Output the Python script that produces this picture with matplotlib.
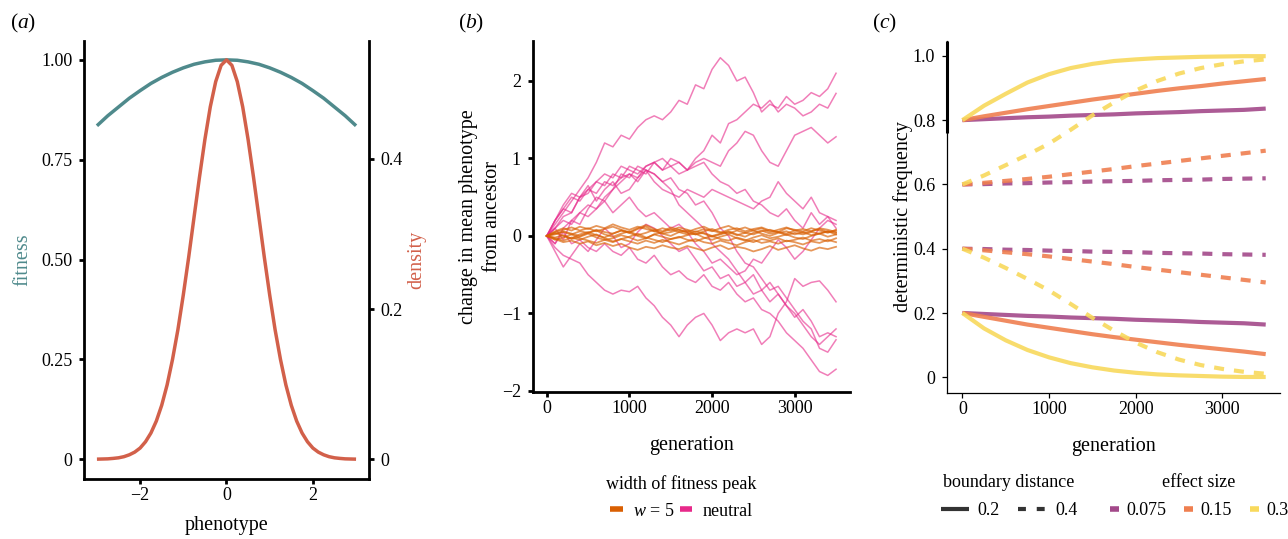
import numpy as np
import matplotlib
matplotlib.use('Agg')
import matplotlib.pyplot as plt
from matplotlib.lines import Line2D

plt.rcParams['font.family'] = 'Liberation Serif'
plt.rcParams['mathtext.fontset'] = 'custom'
plt.rcParams['mathtext.rm'] = 'Liberation Serif'
plt.rcParams['mathtext.it'] = 'Liberation Serif:italic'

# ---- panel (a): fitness landscape and phenotype density
phen_fit = [-3.0, -2.75, -2.5, -2.25, -2.0, -1.75, -1.5, -1.25, -1.0, -0.75, -0.5, -0.25, 0.0,
            0.25, 0.5, 0.75, 1.0, 1.25, 1.5, 1.75, 2.0, 2.25, 2.5, 2.75, 3.0]
fitness = [0.835, 0.860, 0.882, 0.904, 0.923, 0.941, 0.956, 0.969, 0.980, 0.989, 0.995, 0.999, 1.0,
           0.999, 0.995, 0.989, 0.980, 0.969, 0.956, 0.941, 0.923, 0.904, 0.882, 0.860, 0.835]
phen_dens = [-3.0, -2.875, -2.75, -2.625, -2.5, -2.375, -2.25, -2.125, -2.0, -1.875, -1.75, -1.625,
             -1.5, -1.375, -1.25, -1.125, -1.0, -0.875, -0.75, -0.625, -0.5, -0.375, -0.25, -0.125,
             0.0, 0.125, 0.25, 0.375, 0.5, 0.625, 0.75, 0.875, 1.0, 1.125, 1.25, 1.375, 1.5, 1.625,
             1.75, 1.875, 2.0, 2.125, 2.25, 2.375, 2.5, 2.625, 2.75, 2.875, 3.0]
density = [0.0002, 0.0004, 0.0006, 0.0012, 0.002, 0.0035, 0.006, 0.0096, 0.015, 0.0234, 0.035, 0.0509,
           0.072, 0.0991, 0.133, 0.1727, 0.219, 0.2694, 0.323, 0.376, 0.426, 0.4695, 0.503, 0.5247,
           0.532, 0.5247, 0.503, 0.4695, 0.426, 0.376, 0.323, 0.2694, 0.219, 0.1727, 0.133, 0.0991,
           0.072, 0.0509, 0.035, 0.0234, 0.015, 0.0096, 0.006, 0.0035, 0.002, 0.0012, 0.0006, 0.0004, 0.0002]

# ---- panel (b): change in mean phenotype, every 100 generations
gens_b = list(range(0, 3501, 100))
neutral_runs = [
    [0, .15, .3, .45, .6, .75, .95, 1.2, 1.15, 1.3, 1.25, 1.4, 1.5, 1.55, 1.5, 1.6, 1.75, 1.7,
     1.95, 1.9, 2.15, 2.3, 2.2, 2.0, 2.05, 1.85, 1.6, 1.7, 1.65, 1.8, 1.7, 1.75, 1.85, 1.8, 1.9, 2.1],
    [0, .2, .35, .5, .45, .6, .7, .65, .8, .75, .9, .85, .8, .95, 1.0, .9, .95, .85,
     1.0, 1.1, 1.3, 1.2, 1.45, 1.5, 1.6, 1.7, 1.65, 1.75, 1.6, 1.7, 1.65, 1.55, 1.6, 1.7, 1.65, 1.84],
    [0, .1, .25, .3, .5, .55, .7, .8, .75, .9, .85, .8, .9, .95, .85, .9, .8, .85,
     .95, 1.0, .95, .9, 1.1, 1.2, 1.35, 1.3, 1.1, .95, .9, 1.1, 1.3, 1.35, 1.4, 1.3, 1.2, 1.28],
    [0, .2, .4, .55, .5, .65, .45, .6, .7, .55, .6, .75, .85, .7, .6, .55, .5, .6,
     .55, .5, .6, .55, .5, .45, .4, .35, .45, .5, .7, .55, .45, .35, .5, .3, .25, .2],
    [0, .1, -.05, .2, .3, .25, .35, .45, .3, .4, .5, .35, .25, .3, .2, .1, .15, .05,
     -.1, -.2, -.35, -.3, -.4, -.5, -.45, -.3, -.35, -.2, -.05, -.15, -.3, -.2, -.05, .1, .2, .15],
    [0, -.15, -.25, -.3, -.35, -.5, -.6, -.7, -.75, -.7, -.72, -.65, -.8, -.9, -1.05, -1.15, -1.3, -1.15,
     -1.05, -1.0, -1.15, -1.35, -1.25, -1.2, -1.25, -1.2, -1.4, -1.3, -1.0, -.85, -.55, -.65, -.6, -.58, -.7, -.85],
    [0, -.1, .05, -.1, -.05, -.15, -.2, -.1, -.2, -.25, -.15, -.3, -.35, -.25, -.4, -.5, -.45, -.55,
     -.6, -.5, -.65, -.7, -.6, -.75, -.85, -.8, -.95, -1.0, -1.1, -1.25, -1.35, -1.45, -1.6, -1.75, -1.8, -1.72],
    [0, .2, .35, .3, .5, .6, .55, .7, .65, .75, .8, .7, .85, .8, .7, .6, .4, .3,
     .2, .1, -.1, -.2, -.3, -.45, -.6, -.5, -.7, -.85, -.75, -.9, -1.0, -1.15, -1.3, -1.4, -1.3, -1.2],
    [0, -.1, .1, .2, .15, .35, .5, .45, .6, .8, .75, .9, .85, .8, .7, .75, .6, .55,
     .4, .45, .3, .1, .0, -.2, -.35, -.4, -.55, -.7, -.65, -.8, -.95, -1.1, -1.2, -1.45, -1.5, -1.34],
    [0, .1, .2, .15, .3, .4, .35, .5, .6, .7, .8, .75, .9, .95, .85, 1.0, .95, .85,
     .9, .95, .8, .7, .65, .55, .6, .45, .4, .3, .25, .35, .2, .1, .3, .15, .25, .1],
    [0, -.2, -.4, -.25, -.1, -.2, -.05, .1, .0, -.15, -.1, .05, .15, .1, .0, -.1, -.2, -.15,
     -.3, -.45, -.4, -.55, -.5, -.65, -.6, -.75, -.7, -.6, -.75, -.9, -1.05, -.95, -1.1, -1.3, -1.25, -1.3],
]
w5_runs = [
    [0, .03, .05, .02, .06, .04, .08, .05, .03, .07, .04, .09, .12, .06, .03, .05, .08, .04,
     .02, .06, .09, .05, .03, .07, .04, .02, .06, .08, .05, .03, .07, .04, .06, .09, .05, .07],
    [0, -.02, .01, -.04, -.01, .03, -.02, -.05, -.03, .01, -.02, -.06, -.03, .02, -.01, -.04, -.02, .01,
     .03, -.02, -.05, -.01, .02, -.03, -.06, -.02, .01, -.03, -.01, .02, -.02, -.04, .0, .03, -.01, .02],
    [0, -.04, -.08, -.06, -.1, -.07, -.12, -.09, -.13, -.1, -.15, -.18, -.14, -.16, -.12, -.15, -.17, -.13,
     -.16, -.19, -.15, -.12, -.17, -.14, -.16, -.2, -.17, -.13, -.18, -.15, -.12, -.16, -.19, -.15, -.17, -.14],
    [0, .05, .08, .11, .07, .1, .06, .09, .12, .08, .05, .1, .14, .09, .06, .11, .08, .05,
     .09, .12, .07, .04, .08, .1, .06, .09, .11, .07, .05, .1, .08, .06, .1, .07, .04, .08],
    [0, -.05, -.02, .02, -.03, -.06, -.09, -.05, -.08, -.04, -.07, -.1, -.06, -.09, -.05, -.08, -.11, -.07,
     -.04, -.08, -.1, -.06, -.09, -.12, -.08, -.05, -.09, -.07, -.1, -.06, -.08, -.11, -.07, -.09, -.05, -.08],
    [0, .02, .06, .03, .0, .04, .07, .02, -.01, .03, .06, .01, .04, .08, .03, .0, .05, .07,
     .02, .04, .0, .03, .06, .02, -.01, .04, .07, .03, .05, .01, .04, .02, .05, .03, .06, .04],
    [0, .04, .0, -.03, .02, .05, .01, -.02, .03, .07, .04, .0, -.03, .02, .05, .09, .05, .02,
     .06, .03, -.01, .02, .05, .01, .04, .07, .03, .0, .04, .06, .02, .05, .01, .03, .06, .02],
    [0, -.03, -.06, -.02, -.05, -.01, .02, -.03, -.07, -.04, -.01, .03, -.02, -.05, -.08, -.04, -.01, -.05,
     -.07, -.03, .0, -.04, -.06, -.02, -.05, -.08, -.04, -.06, -.03, -.07, -.05, -.02, -.06, -.04, -.07, -.03],
    [0, .06, .1, .07, .12, .09, .13, .1, .15, .11, .08, .12, .09, .06, .1, .07, .11, .08,
     .05, .09, .06, .1, .13, .08, .11, .07, .1, .05, .08, .11, .07, .09, .06, .1, .08, .05],
]

# ---- panel (c): deterministic frequency, every 250 generations
gens_c = list(range(0, 3501, 250))
solid_hi = {
    '0.075': [0.800, 0.803, 0.806, 0.809, 0.811, 0.814, 0.816, 0.818, 0.821, 0.823, 0.825, 0.828, 0.830, 0.832, 0.836],
    '0.15': [0.800, 0.812, 0.823, 0.834, 0.844, 0.854, 0.864, 0.873, 0.882, 0.891, 0.899, 0.906, 0.914, 0.921, 0.928],
    '0.3': [0.800, 0.845, 0.882, 0.917, 0.943, 0.962, 0.975, 0.984, 0.989, 0.993, 0.995, 0.997, 0.998, 0.999, 0.999],
}
solid_lo = {
    '0.075': [0.200, 0.197, 0.194, 0.191, 0.189, 0.186, 0.184, 0.182, 0.179, 0.177, 0.175, 0.172, 0.170, 0.168, 0.164],
    '0.15': [0.200, 0.188, 0.176, 0.164, 0.154, 0.144, 0.134, 0.125, 0.117, 0.109, 0.101, 0.094, 0.087, 0.080, 0.072],
    '0.3': [0.200, 0.152, 0.115, 0.085, 0.062, 0.044, 0.031, 0.021, 0.014, 0.009, 0.006, 0.004, 0.002, 0.001, 0.001],
}
dashed_hi = {
    '0.075': [0.600, 0.601, 0.603, 0.604, 0.606, 0.607, 0.609, 0.610, 0.611, 0.613, 0.614, 0.615, 0.617, 0.618, 0.619],
    '0.15': [0.600, 0.605, 0.611, 0.617, 0.624, 0.632, 0.640, 0.648, 0.657, 0.665, 0.673, 0.681, 0.689, 0.697, 0.705],
    '0.3': [0.600, 0.628, 0.660, 0.692, 0.727, 0.770, 0.815, 0.855, 0.892, 0.922, 0.945, 0.962, 0.974, 0.983, 0.989],
}
dashed_lo = {
    '0.075': [0.400, 0.399, 0.397, 0.396, 0.394, 0.393, 0.391, 0.390, 0.389, 0.387, 0.386, 0.385, 0.383, 0.382, 0.381],
    '0.15': [0.400, 0.395, 0.389, 0.383, 0.376, 0.368, 0.360, 0.352, 0.343, 0.335, 0.327, 0.319, 0.311, 0.303, 0.295],
    '0.3': [0.400, 0.372, 0.340, 0.306, 0.270, 0.228, 0.185, 0.145, 0.108, 0.078, 0.055, 0.038, 0.026, 0.017, 0.011],
}
effect_sizes = ['0.075', '0.15', '0.3']
effect_colors = {'0.075': '#a3498a', '0.15': '#ef7f50', '0.3': '#f8d95c'}

TEAL = '#4f8a8c'
CORAL = '#d2604a'
ORANGE = '#d95f02'
PINK = '#e7298a'

fig = plt.figure(figsize=(12.88, 5.39), dpi=100)


def style_axis(ax, lw):
    ax.spines['top'].set_visible(False)
    ax.spines['right'].set_visible(False)
    for s in ['left', 'bottom']:
        ax.spines[s].set_linewidth(lw)
    ax.tick_params(width=lw, length=3.5, labelsize=13, color='black')
    ax.tick_params(axis='x', pad=2.4)
    ax.tick_params(axis='y', pad=5)


# (a)
ax_a = fig.add_axes([0.0652, 0.1108, 0.2213, 0.8137])
ax_a.plot(phen_fit, fitness, color=TEAL, lw=2.5, solid_capstyle='butt')
ax_a.set_xlim(-3.3, 3.3)
ax_a.set_ylim(-0.05, 1.048)
ax_a.set_xticks([-2, 0, 2])
ax_a.set_yticks([0, 0.25, 0.5, 0.75, 1.0])
ax_a.set_yticklabels(['0', '0.25', '0.50', '0.75', '1.00'])
style_axis(ax_a, 2.0)
ax_a.set_xlabel('phenotype', fontsize=14.5, labelpad=8)
ax_a.set_ylabel('fitness', fontsize=14.5, color=TEAL, labelpad=6)

ax_a2 = ax_a.twinx()
ax_a2.plot(phen_dens, density, color=CORAL, lw=2.5, solid_capstyle='butt')
ax_a2.set_ylim(-0.05 * 0.532, 1.048 * 0.532)
ax_a2.set_yticks([0, 0.2, 0.4])
ax_a2.set_yticklabels(['0', '0.2', '0.4'])
ax_a2.spines['top'].set_visible(False)
ax_a2.spines['left'].set_visible(False)
ax_a2.spines['bottom'].set_visible(False)
ax_a2.spines['right'].set_linewidth(2.0)
ax_a2.tick_params(width=2.0, length=3.5, labelsize=13, pad=5)
ax_a2.set_ylabel('density', fontsize=14.5, color=CORAL, rotation=90, labelpad=3)

# (b)
ax_b = fig.add_axes([0.4136, 0.2733, 0.2464, 0.6512])
for run in neutral_runs:
    ax_b.plot(gens_b, run, color=PINK, lw=1.1, alpha=0.6)
for run in w5_runs:
    ax_b.plot(gens_b, run, color=ORANGE, lw=1.3, alpha=0.65)
ax_b.set_xlim(-170, 3670)
ax_b.set_ylim(-2.01, 2.52)
ax_b.set_xticks([0, 1000, 2000, 3000])
ax_b.set_yticks([-2, -1, 0, 1, 2])
style_axis(ax_b, 2.0)
ax_b.set_xlabel('generation', fontsize=14.5, labelpad=14)
ax_b.set_ylabel('change in mean phenotype\nfrom ancestor', fontsize=14.5, labelpad=0, linespacing=1.35)
handles_b = [Line2D([], [], color=ORANGE, lw=4, solid_capstyle='butt'),
             Line2D([], [], color=PINK, lw=4, solid_capstyle='butt')]
fig.legend(handles_b, ['$w$ = 5', 'neutral'], title='width of fitness peak', ncol=2,
           loc='upper center', bbox_to_anchor=(0.529, 1 - 475 / 539), frameon=False,
           fontsize=13, title_fontsize=13, handlelength=0.7, handletextpad=0.55,
           columnspacing=0.3, borderpad=0, borderaxespad=0, labelspacing=0.55)

# (c)
ax_c = fig.add_axes([0.7353, 0.2714, 0.2585, 0.653])
for es in effect_sizes:
    col = effect_colors[es]
    ax_c.plot(gens_c, solid_hi[es], color=col, lw=3.0, alpha=0.9, solid_capstyle='butt')
    ax_c.plot(gens_c, solid_lo[es], color=col, lw=3.0, alpha=0.9, solid_capstyle='butt')
    ax_c.plot(gens_c, dashed_hi[es], color=col, lw=3.0, alpha=0.9, dashes=(2.4, 2.4))
    ax_c.plot(gens_c, dashed_lo[es], color=col, lw=3.0, alpha=0.9, dashes=(2.4, 2.4))
ax_c.set_xlim(-177, 3665)
ax_c.set_ylim(-0.048, 1.047)
ax_c.set_xticks([0, 1000, 2000, 3000])
ax_c.set_yticks([0, 0.2, 0.4, 0.6, 0.8, 1.0])
ax_c.set_yticklabels(['0', '0.2', '0.4', '0.6', '0.8', '1.0'])
style_axis(ax_c, 0.9)
ax_c.plot([0, 0], [0.737, 1.0], transform=ax_c.transAxes, color='black', lw=2.2,
          clip_on=False, solid_capstyle='butt')
ax_c.set_xlabel('generation', fontsize=14.5, labelpad=14)
ax_c.set_ylabel('deterministic frequency', fontsize=14.5, labelpad=0)

handles_bd = [Line2D([], [], color='#333333', lw=3.0, solid_capstyle='butt'),
              Line2D([], [], color='#333333', lw=3.0, dashes=(1.9, 2.6))]
fig.legend(handles_bd, ['0.2', '0.4'], title='boundary distance', ncol=2,
           loc='upper center', bbox_to_anchor=(1009 / 1288, 1 - 474 / 539), frameon=False,
           fontsize=13, title_fontsize=13, handlelength=1.55, handletextpad=0.5,
           columnspacing=1.0, borderpad=0, borderaxespad=0, labelspacing=0.6)
handles_es = [Line2D([], [], color=effect_colors[es], lw=4, solid_capstyle='butt') for es in effect_sizes]
fig.legend(handles_es, effect_sizes, title='effect size', ncol=3,
           loc='upper center', bbox_to_anchor=(1199 / 1288, 1 - 474 / 539), frameon=False,
           fontsize=13, title_fontsize=13, handlelength=0.5, handletextpad=0.4,
           columnspacing=1.0, borderpad=0, borderaxespad=0, labelspacing=0.6)

# panel letters
for x, letter in [(10, 'a'), (458, 'b'), (872, 'c')]:
    fig.text(x / 1288, 1 - 23 / 539, '($' + letter + '$)', fontsize=15.5, va='center', ha='left')

fig.savefig('out.png', dpi=100)
